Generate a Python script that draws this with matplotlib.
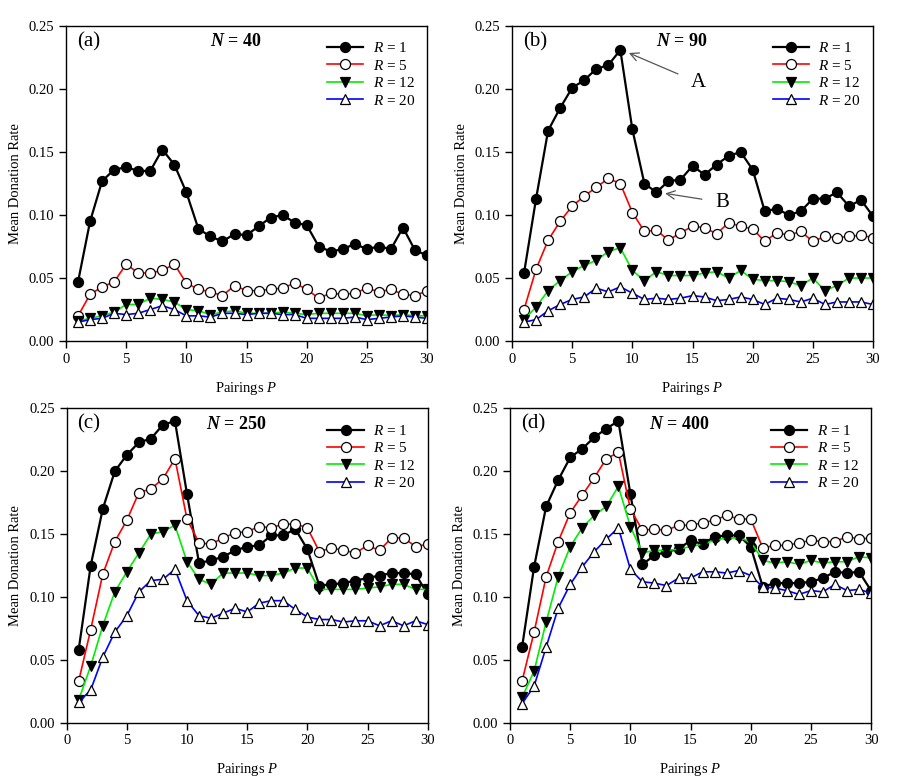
import matplotlib
matplotlib.use("Agg")
import matplotlib.pyplot as plt
import numpy as np

plt.rcParams['font.family'] = ['Liberation Serif', 'DejaVu Serif']
plt.rcParams['mathtext.fontset'] = 'custom'
plt.rcParams['mathtext.rm'] = 'Liberation Serif'
plt.rcParams['mathtext.it'] = 'Liberation Serif:italic'
plt.rcParams['mathtext.bf'] = 'Liberation Serif:bold'
plt.rcParams['mathtext.bfit'] = 'Liberation Serif:bold:italic'

pairings = np.arange(1, 31)
r_labels = ["1", "5", "12", "20"]

# panel (a), N = 40
a_r1 = [0.047, 0.095, 0.127, 0.136, 0.138, 0.135, 0.135, 0.152, 0.140, 0.118,
        0.089, 0.083, 0.079, 0.085, 0.084, 0.091, 0.098, 0.100, 0.094, 0.092,
        0.075, 0.071, 0.073, 0.077, 0.073, 0.075, 0.073, 0.090, 0.072, 0.068]
a_r5 = [0.020, 0.037, 0.043, 0.047, 0.061, 0.054, 0.054, 0.056, 0.061, 0.046,
        0.041, 0.039, 0.036, 0.044, 0.040, 0.040, 0.041, 0.042, 0.046, 0.041,
        0.034, 0.038, 0.037, 0.038, 0.042, 0.039, 0.041, 0.037, 0.036, 0.040]
a_r12 = [0.016, 0.018, 0.020, 0.023, 0.029, 0.029, 0.034, 0.033, 0.031, 0.025,
         0.024, 0.021, 0.023, 0.024, 0.022, 0.022, 0.022, 0.023, 0.022, 0.021,
         0.022, 0.022, 0.022, 0.022, 0.020, 0.021, 0.020, 0.021, 0.020, 0.020]
a_r20 = [0.015, 0.017, 0.018, 0.022, 0.021, 0.022, 0.025, 0.028, 0.025, 0.020,
         0.020, 0.019, 0.022, 0.022, 0.021, 0.022, 0.022, 0.021, 0.021, 0.018,
         0.018, 0.018, 0.018, 0.019, 0.017, 0.018, 0.019, 0.020, 0.019, 0.018]

# panel (b), N = 90
b_r1 = [0.054, 0.113, 0.167, 0.185, 0.201, 0.207, 0.216, 0.219, 0.231, 0.168,
        0.125, 0.118, 0.127, 0.128, 0.139, 0.132, 0.140, 0.147, 0.150, 0.136,
        0.103, 0.105, 0.100, 0.103, 0.113, 0.113, 0.118, 0.107, 0.112, 0.099]
b_r5 = [0.025, 0.057, 0.080, 0.095, 0.107, 0.115, 0.122, 0.129, 0.125, 0.102,
        0.087, 0.088, 0.080, 0.086, 0.091, 0.090, 0.085, 0.094, 0.091, 0.089,
        0.079, 0.086, 0.084, 0.087, 0.079, 0.083, 0.082, 0.083, 0.084, 0.082]
b_r12 = [0.017, 0.027, 0.040, 0.048, 0.055, 0.060, 0.064, 0.071, 0.074, 0.056,
         0.048, 0.055, 0.052, 0.052, 0.052, 0.054, 0.055, 0.050, 0.056, 0.049,
         0.048, 0.048, 0.047, 0.044, 0.050, 0.040, 0.044, 0.050, 0.050, 0.050]
b_r20 = [0.015, 0.017, 0.024, 0.029, 0.033, 0.035, 0.042, 0.039, 0.043, 0.038,
         0.033, 0.034, 0.033, 0.034, 0.036, 0.035, 0.032, 0.033, 0.035, 0.033,
         0.029, 0.034, 0.033, 0.031, 0.034, 0.029, 0.031, 0.031, 0.031, 0.029]

# panel (c), N = 250
c_r1 = [0.058, 0.125, 0.170, 0.200, 0.213, 0.223, 0.226, 0.237, 0.240, 0.182,
        0.127, 0.129, 0.132, 0.137, 0.140, 0.141, 0.149, 0.149, 0.154, 0.138,
        0.109, 0.110, 0.111, 0.113, 0.115, 0.117, 0.119, 0.119, 0.118, 0.102]
c_r5 = [0.033, 0.074, 0.118, 0.144, 0.161, 0.183, 0.186, 0.194, 0.210, 0.162,
        0.143, 0.142, 0.147, 0.151, 0.152, 0.156, 0.155, 0.158, 0.158, 0.155,
        0.136, 0.139, 0.137, 0.135, 0.141, 0.137, 0.147, 0.147, 0.140, 0.142]
c_r12 = [0.018, 0.045, 0.077, 0.104, 0.120, 0.135, 0.150, 0.152, 0.157, 0.128,
         0.114, 0.110, 0.119, 0.119, 0.119, 0.117, 0.117, 0.119, 0.123, 0.123,
         0.106, 0.106, 0.106, 0.106, 0.107, 0.108, 0.110, 0.110, 0.106, 0.106]
c_r20 = [0.016, 0.026, 0.052, 0.072, 0.085, 0.104, 0.113, 0.114, 0.122, 0.097,
         0.085, 0.083, 0.087, 0.091, 0.088, 0.095, 0.097, 0.097, 0.090, 0.084,
         0.082, 0.082, 0.080, 0.081, 0.081, 0.077, 0.081, 0.077, 0.081, 0.078]

# panel (d), N = 400
d_r1 = [0.060, 0.124, 0.172, 0.193, 0.211, 0.218, 0.227, 0.234, 0.240, 0.182,
        0.126, 0.133, 0.136, 0.138, 0.145, 0.142, 0.148, 0.149, 0.149, 0.140,
        0.108, 0.111, 0.111, 0.111, 0.112, 0.115, 0.120, 0.119, 0.120, 0.105]
d_r5 = [0.033, 0.072, 0.116, 0.144, 0.167, 0.181, 0.195, 0.210, 0.215, 0.170,
        0.153, 0.154, 0.153, 0.157, 0.157, 0.159, 0.161, 0.165, 0.162, 0.162,
        0.139, 0.141, 0.141, 0.143, 0.145, 0.144, 0.144, 0.148, 0.146, 0.147]
d_r12 = [0.020, 0.041, 0.080, 0.116, 0.140, 0.155, 0.165, 0.172, 0.188, 0.156,
         0.135, 0.137, 0.137, 0.138, 0.140, 0.142, 0.145, 0.147, 0.147, 0.144,
         0.129, 0.127, 0.128, 0.126, 0.129, 0.127, 0.128, 0.128, 0.132, 0.131]
d_r20 = [0.015, 0.029, 0.060, 0.091, 0.110, 0.124, 0.136, 0.146, 0.155, 0.122,
         0.112, 0.111, 0.109, 0.115, 0.115, 0.120, 0.120, 0.119, 0.121, 0.117,
         0.108, 0.107, 0.105, 0.102, 0.105, 0.104, 0.110, 0.105, 0.106, 0.103]

panels = [
    ("(a)", "40", [a_r1, a_r5, a_r12, a_r20]),
    ("(b)", "90", [b_r1, b_r5, b_r12, b_r20]),
    ("(c)", "250", [c_r1, c_r5, c_r12, c_r20]),
    ("(d)", "400", [d_r1, d_r5, d_r12, d_r20]),
]

# axes positions in figure fraction (left, bottom, width, height)
positions = [
    [0.0736, 0.5628, 0.4025, 0.4038],
    [0.5708, 0.5628, 0.4025, 0.4038],
    [0.0743, 0.0737, 0.4025, 0.4026],
    [0.5686, 0.0737, 0.4025, 0.4026],
]

styles = [
    dict(color="black", marker="o", mfc="black", mec="black", lw=1.6),
    dict(color="red", marker="o", mfc="white", mec="black", lw=1.2),
    dict(color="#00ee00", marker="v", mfc="black", mec="black", lw=1.2),
    dict(color="blue", marker="^", mfc="white", mec="black", lw=1.2),
]

fig = plt.figure(figsize=(8.97, 7.8), dpi=100)

for idx, (tag, n_val, series) in enumerate(panels):
    ax = fig.add_axes(positions[idx])
    for vals, lab, st in zip(series, r_labels, styles):
        ax.plot(pairings, vals, ms=7.2, mew=0.9, label=r"$R$ = " + lab, **st)
    ax.set_xlim(0, 30)
    ax.set_ylim(0, 0.25)
    ax.set_xticks([0, 5, 10, 15, 20, 25, 30])
    ax.set_yticks([0, 0.05, 0.10, 0.15, 0.20, 0.25])
    ax.set_yticklabels(["0.00", "0.05", "0.10", "0.15", "0.20", "0.25"])
    ax.tick_params(direction="out", length=5, width=1, labelsize=10.5, top=False, right=False)
    for sp in ax.spines.values():
        sp.set_linewidth(1.0)
    ax.set_xlabel(r"Pairings $P$", fontsize=10.5, labelpad=10)
    ax.set_ylabel("Mean Donation Rate", fontsize=10.5, labelpad=5)
    ax.text(0.03, 0.95, tag, transform=ax.transAxes, fontsize=15, va="center", ha="left")
    ax.text(0.47, 0.95, r"$\mathbfit{N}$ = " + n_val, transform=ax.transAxes,
            fontsize=13, fontweight="bold", va="center", ha="center")
    ax.legend(loc="upper right", frameon=False, fontsize=11, handlelength=2.4,
              handletextpad=0.6, labelspacing=0.22, borderaxespad=0.4,
              bbox_to_anchor=(1.0, 0.99))

    if tag == "(b)":
        ax.annotate("A", xy=(9.5, 0.2295), xytext=(15.5, 0.205), fontsize=15,
                    ha="center", va="center",
                    arrowprops=dict(arrowstyle="->", color="#555555", lw=0.9,
                                    shrinkA=8, shrinkB=2))
        ax.annotate("B", xy=(12.5, 0.1175), xytext=(17.5, 0.110), fontsize=15,
                    ha="center", va="center",
                    arrowprops=dict(arrowstyle="->", color="#555555", lw=0.9,
                                    shrinkA=8, shrinkB=2))

fig.savefig("out.png", dpi=100)
